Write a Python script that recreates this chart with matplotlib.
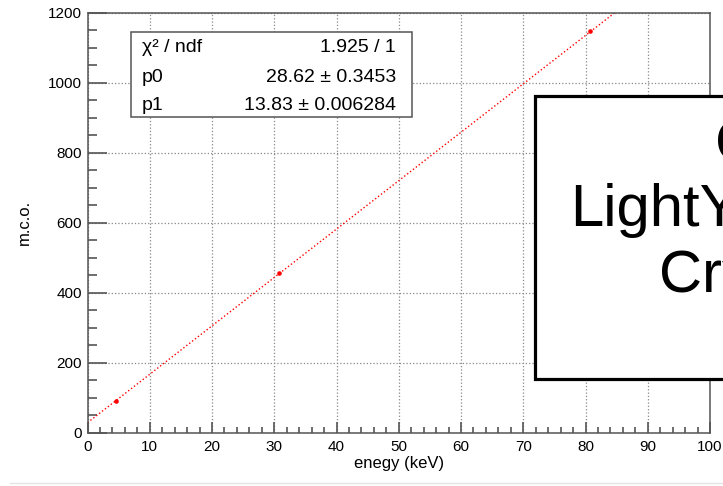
import matplotlib
matplotlib.use("Agg")
import matplotlib.pyplot as plt
from matplotlib.patches import Rectangle
from matplotlib.lines import Line2D
from matplotlib.ticker import MultipleLocator

plt.rcParams['font.family'] = ['Liberation Sans', 'DejaVu Sans']

# calibration points (energy in keV, m.c.o.)
energy = [4.6, 30.8, 80.8]
mco = [91, 455, 1147]

# fit result
p0 = 28.62
p0_err = 0.3453
p1 = 13.83
p1_err = 0.006284
chi2 = 1.925
ndf = 1

stat_names = ["χ² / ndf", "p0", "p1"]
stat_values = [f"{chi2} / {ndf}", f"{p0} ± {p0_err}", f"{p1} ± {p1_err}"]
box_lines = ["Calibration", "LightYield", "Crystal"]

W, H = 723, 486
fig = plt.figure(figsize=(W / 100, H / 100), dpi=100)
ax = fig.add_axes([87.5 / W, 1 - 432.7 / H, 622.5 / W, 420 / H])

ax.set_xlim(0, 100)
ax.set_ylim(0, 1200)
ax.xaxis.set_major_locator(MultipleLocator(10))
ax.xaxis.set_minor_locator(MultipleLocator(2))
ax.yaxis.set_major_locator(MultipleLocator(200))
ax.yaxis.set_minor_locator(MultipleLocator(50))

ax.grid(True, which='major', linestyle=':', color='#888888', linewidth=0.9)
ax.set_axisbelow(True)

ax.axline((0, p0), slope=p1, color='red', linestyle=':', linewidth=1.0)
ax.plot(energy, mco, 'o', color='red', markersize=3.3, markeredgewidth=0)

frame_col = '#555555'
for s in ax.spines.values():
    s.set_color(frame_col)
    s.set_linewidth(1.1)

ax.tick_params(axis='both', which='both', direction='in', colors=frame_col,
               labelcolor='black', labelsize=11, width=1.2,
               top=False, right=False)
ax.tick_params(axis='x', which='major', length=8, pad=5)
ax.tick_params(axis='x', which='minor', length=4)
ax.tick_params(axis='y', which='major', length=13.5, pad=4)
ax.tick_params(axis='y', which='minor', length=6.7)

ax.set_xlabel("enegy (keV)", fontsize=12)
ax.set_ylabel("m.c.o.", fontsize=12)
ax.xaxis.set_label_coords(0.5, -0.055)
ax.yaxis.set_label_coords(-0.089, 0.5)

# stats box
def fx(px):
    return px / W

def fy(py):
    return 1 - py / H

fig.add_artist(Rectangle((fx(130.7), fy(116.7)), fx(411.7) - fx(130.7),
                         fy(32.3) - fy(116.7), transform=fig.transFigure,
                         facecolor='white', edgecolor='#555555', linewidth=1.1))
row_y = [48, 77, 105]
for name, val, ry in zip(stat_names, stat_values, row_y):
    fig.text(fx(142), fy(ry), name, fontsize=14, ha='left', va='center')
    fig.text(fx(396), fy(ry), val, fontsize=14, ha='right', va='center')

# big label box, cut by the right edge
fig.add_artist(Rectangle((fx(535), fy(379)), fx(950) - fx(535),
                         fy(96) - fy(379), transform=fig.transFigure,
                         facecolor='white', edgecolor='black', linewidth=2.3))
line_x = [715, 570.5, 659]
line_base = [160, 226, 292]
for txt, lx, ly in zip(box_lines, line_x, line_base):
    fig.text(fx(lx), fy(ly), txt, fontsize=43, ha='left', va='baseline')

# faint bottom border of the screenshot
fig.add_artist(Line2D([fx(10), 1], [fy(483), fy(483)], transform=fig.transFigure,
                      color='#e4e4e4', linewidth=1))

fig.savefig("out.png", dpi=100)
